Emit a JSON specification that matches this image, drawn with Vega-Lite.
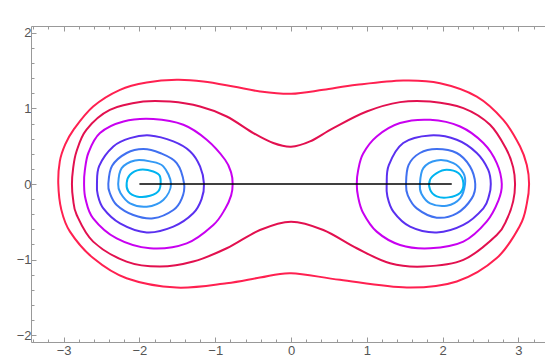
{
  "$schema": "https://vega.github.io/schema/vega-lite/v6.json",
  "width": 514,
  "height": 316,
  "autosize": {"type": "none"},
  "padding": {"left": 31, "top": 26, "right": 0, "bottom": 19},
  "config": {"view": {"stroke": null}, "axis": {"grid": false, "labelFont": "Liberation Sans"}},
  "resolve": {"axis": {"x": "independent", "y": "independent"}},
  "layer": [
    {
      "data": {"values": [
        {"s":"c7","c":"c7","i":0,"x":-3.07,"y":0},
        {"s":"c7","c":"c7","i":1,"x":-3.05,"y":0.3},
        {"s":"c7","c":"c7","i":2,"x":-2.98,"y":0.52},
        {"s":"c7","c":"c7","i":3,"x":-2.87,"y":0.717},
        {"s":"c7","c":"c7","i":4,"x":-2.61,"y":1.025},
        {"s":"c7","c":"c7","i":5,"x":-2.256,"y":1.246},
        {"s":"c7","c":"c7","i":6,"x":-1.904,"y":1.342},
        {"s":"c7","c":"c7","i":7,"x":-1.508,"y":1.378},
        {"s":"c7","c":"c7","i":8,"x":-1.157,"y":1.356},
        {"s":"c7","c":"c7","i":9,"x":-0.761,"y":1.29},
        {"s":"c7","c":"c7","i":10,"x":-0.409,"y":1.224},
        {"s":"c7","c":"c7","i":11,"x":0.0,"y":1.193},
        {"s":"c7","c":"c7","i":12,"x":0.426,"y":1.246},
        {"s":"c7","c":"c7","i":13,"x":0.867,"y":1.312},
        {"s":"c7","c":"c7","i":14,"x":1.48,"y":1.369},
        {"s":"c7","c":"c7","i":15,"x":1.966,"y":1.334},
        {"s":"c7","c":"c7","i":16,"x":2.45,"y":1.157},
        {"s":"c7","c":"c7","i":17,"x":2.8,"y":0.849},
        {"s":"c7","c":"c7","i":18,"x":3.02,"y":0.5},
        {"s":"c7","c":"c7","i":19,"x":3.11,"y":0.25},
        {"s":"c7","c":"c7","i":20,"x":3.14,"y":0},
        {"s":"c7","c":"c7","i":21,"x":3.11,"y":-0.26},
        {"s":"c7","c":"c7","i":22,"x":3.02,"y":-0.55},
        {"s":"c7","c":"c7","i":23,"x":2.714,"y":-0.98},
        {"s":"c7","c":"c7","i":24,"x":2.186,"y":-1.29},
        {"s":"c7","c":"c7","i":25,"x":1.526,"y":-1.37},
        {"s":"c7","c":"c7","i":26,"x":0.646,"y":-1.268},
        {"s":"c7","c":"c7","i":27,"x":0.0,"y":-1.18},
        {"s":"c7","c":"c7","i":28,"x":-0.41,"y":-1.238},
        {"s":"c7","c":"c7","i":29,"x":-0.85,"y":-1.313},
        {"s":"c7","c":"c7","i":30,"x":-1.51,"y":-1.37},
        {"s":"c7","c":"c7","i":31,"x":-2.17,"y":-1.247},
        {"s":"c7","c":"c7","i":32,"x":-2.61,"y":-0.98},
        {"s":"c7","c":"c7","i":33,"x":-2.916,"y":-0.63},
        {"s":"c7","c":"c7","i":34,"x":-3.03,"y":-0.34},

        {"s":"c6","c":"c6","i":0,"x":-2.89,"y":0},
        {"s":"c6","c":"c6","i":1,"x":-2.875,"y":0.2},
        {"s":"c6","c":"c6","i":2,"x":-2.83,"y":0.43},
        {"s":"c6","c":"c6","i":3,"x":-2.7,"y":0.717},
        {"s":"c6","c":"c6","i":4,"x":-2.39,"y":0.98},
        {"s":"c6","c":"c6","i":5,"x":-1.95,"y":1.09},
        {"s":"c6","c":"c6","i":6,"x":-1.596,"y":1.09},
        {"s":"c6","c":"c6","i":7,"x":-1.2,"y":1.025},
        {"s":"c6","c":"c6","i":8,"x":-0.848,"y":0.893},
        {"s":"c6","c":"c6","i":9,"x":-0.497,"y":0.674},
        {"s":"c6","c":"c6","i":10,"x":-0.234,"y":0.542},
        {"s":"c6","c":"c6","i":11,"x":0.0,"y":0.493},
        {"s":"c6","c":"c6","i":12,"x":0.25,"y":0.563},
        {"s":"c6","c":"c6","i":13,"x":0.558,"y":0.74},
        {"s":"c6","c":"c6","i":14,"x":0.998,"y":0.959},
        {"s":"c6","c":"c6","i":15,"x":1.438,"y":1.083},
        {"s":"c6","c":"c6","i":16,"x":1.834,"y":1.091},
        {"s":"c6","c":"c6","i":17,"x":2.273,"y":1.004},
        {"s":"c6","c":"c6","i":18,"x":2.625,"y":0.783},
        {"s":"c6","c":"c6","i":19,"x":2.845,"y":0.45},
        {"s":"c6","c":"c6","i":20,"x":2.93,"y":0.22},
        {"s":"c6","c":"c6","i":21,"x":2.955,"y":0},
        {"s":"c6","c":"c6","i":22,"x":2.93,"y":-0.23},
        {"s":"c6","c":"c6","i":23,"x":2.85,"y":-0.46},
        {"s":"c6","c":"c6","i":24,"x":2.714,"y":-0.674},
        {"s":"c6","c":"c6","i":25,"x":2.273,"y":-1.004},
        {"s":"c6","c":"c6","i":26,"x":1.745,"y":-1.092},
        {"s":"c6","c":"c6","i":27,"x":1.306,"y":-1.049},
        {"s":"c6","c":"c6","i":28,"x":0.867,"y":-0.85},
        {"s":"c6","c":"c6","i":29,"x":0.426,"y":-0.608},
        {"s":"c6","c":"c6","i":30,"x":0.0,"y":-0.498},
        {"s":"c6","c":"c6","i":31,"x":-0.41,"y":-0.608},
        {"s":"c6","c":"c6","i":32,"x":-0.848,"y":-0.85},
        {"s":"c6","c":"c6","i":33,"x":-1.29,"y":-1.026},
        {"s":"c6","c":"c6","i":34,"x":-1.73,"y":-1.092},
        {"s":"c6","c":"c6","i":35,"x":-2.17,"y":-1.026},
        {"s":"c6","c":"c6","i":36,"x":-2.61,"y":-0.762},
        {"s":"c6","c":"c6","i":37,"x":-2.827,"y":-0.41},
        {"s":"c6","c":"c6","i":38,"x":-2.875,"y":-0.2},

        {"s":"c5L","c":"c5","i":0,"x":-2.73,"y":0},
        {"s":"c5L","c":"c5","i":1,"x":-2.72,"y":0.18},
        {"s":"c5L","c":"c5","i":2,"x":-2.67,"y":0.42},
        {"s":"c5L","c":"c5","i":3,"x":-2.52,"y":0.674},
        {"s":"c5L","c":"c5","i":4,"x":-2.21,"y":0.827},
        {"s":"c5L","c":"c5","i":5,"x":-1.817,"y":0.859},
        {"s":"c5L","c":"c5","i":6,"x":-1.42,"y":0.783},
        {"s":"c5L","c":"c5","i":7,"x":-1.112,"y":0.585},
        {"s":"c5L","c":"c5","i":8,"x":-0.87,"y":0.321},
        {"s":"c5L","c":"c5","i":9,"x":-0.79,"y":0.15},
        {"s":"c5L","c":"c5","i":10,"x":-0.77,"y":0},
        {"s":"c5L","c":"c5","i":11,"x":-0.79,"y":-0.15},
        {"s":"c5L","c":"c5","i":12,"x":-0.87,"y":-0.33},
        {"s":"c5L","c":"c5","i":13,"x":-1.025,"y":-0.542},
        {"s":"c5L","c":"c5","i":14,"x":-1.376,"y":-0.785},
        {"s":"c5L","c":"c5","i":15,"x":-1.86,"y":-0.85},
        {"s":"c5L","c":"c5","i":16,"x":-2.3,"y":-0.72},
        {"s":"c5L","c":"c5","i":17,"x":-2.61,"y":-0.454},
        {"s":"c5L","c":"c5","i":18,"x":-2.71,"y":-0.2},

        {"s":"c5R","c":"c5","i":0,"x":0.867,"y":0},
        {"s":"c5R","c":"c5","i":1,"x":0.885,"y":0.18},
        {"s":"c5R","c":"c5","i":2,"x":0.95,"y":0.4},
        {"s":"c5R","c":"c5","i":3,"x":1.13,"y":0.629},
        {"s":"c5R","c":"c5","i":4,"x":1.438,"y":0.806},
        {"s":"c5R","c":"c5","i":5,"x":1.834,"y":0.849},
        {"s":"c5R","c":"c5","i":6,"x":2.23,"y":0.761},
        {"s":"c5R","c":"c5","i":7,"x":2.537,"y":0.542},
        {"s":"c5R","c":"c5","i":8,"x":2.714,"y":0.277},
        {"s":"c5R","c":"c5","i":9,"x":2.78,"y":0},
        {"s":"c5R","c":"c5","i":10,"x":2.735,"y":-0.22},
        {"s":"c5R","c":"c5","i":11,"x":2.58,"y":-0.498},
        {"s":"c5R","c":"c5","i":12,"x":2.273,"y":-0.762},
        {"s":"c5R","c":"c5","i":13,"x":1.834,"y":-0.85},
        {"s":"c5R","c":"c5","i":14,"x":1.438,"y":-0.806},
        {"s":"c5R","c":"c5","i":15,"x":1.13,"y":-0.63},
        {"s":"c5R","c":"c5","i":16,"x":0.95,"y":-0.38},
        {"s":"c5R","c":"c5","i":17,"x":0.885,"y":-0.17},

        {"s":"c4L","c":"c4","i":0,"x":-2.56,"y":0},
        {"s":"c4L","c":"c4","i":1,"x":-2.53,"y":0.24},
        {"s":"c4L","c":"c4","i":2,"x":-2.344,"y":0.497},
        {"s":"c4L","c":"c4","i":3,"x":-2.124,"y":0.607},
        {"s":"c4L","c":"c4","i":4,"x":-1.86,"y":0.642},
        {"s":"c4L","c":"c4","i":5,"x":-1.552,"y":0.563},
        {"s":"c4L","c":"c4","i":6,"x":-1.33,"y":0.431},
        {"s":"c4L","c":"c4","i":7,"x":-1.2,"y":0.233},
        {"s":"c4L","c":"c4","i":8,"x":-1.148,"y":0},
        {"s":"c4L","c":"c4","i":9,"x":-1.18,"y":-0.2},
        {"s":"c4L","c":"c4","i":10,"x":-1.29,"y":-0.388},
        {"s":"c4L","c":"c4","i":11,"x":-1.552,"y":-0.564},
        {"s":"c4L","c":"c4","i":12,"x":-1.904,"y":-0.64},
        {"s":"c4L","c":"c4","i":13,"x":-2.256,"y":-0.52},
        {"s":"c4L","c":"c4","i":14,"x":-2.476,"y":-0.322},
        {"s":"c4L","c":"c4","i":15,"x":-2.55,"y":-0.14},

        {"s":"c4R","c":"c4","i":0,"x":1.262,"y":0},
        {"s":"c4R","c":"c4","i":1,"x":1.29,"y":0.25},
        {"s":"c4R","c":"c4","i":2,"x":1.48,"y":0.542},
        {"s":"c4R","c":"c4","i":3,"x":1.834,"y":0.642},
        {"s":"c4R","c":"c4","i":4,"x":2.186,"y":0.585},
        {"s":"c4R","c":"c4","i":5,"x":2.45,"y":0.41},
        {"s":"c4R","c":"c4","i":6,"x":2.6,"y":0.189},
        {"s":"c4R","c":"c4","i":7,"x":2.635,"y":0},
        {"s":"c4R","c":"c4","i":8,"x":2.61,"y":-0.16},
        {"s":"c4R","c":"c4","i":9,"x":2.537,"y":-0.322},
        {"s":"c4R","c":"c4","i":10,"x":2.273,"y":-0.542},
        {"s":"c4R","c":"c4","i":11,"x":1.922,"y":-0.64},
        {"s":"c4R","c":"c4","i":12,"x":1.57,"y":-0.564},
        {"s":"c4R","c":"c4","i":13,"x":1.35,"y":-0.366},
        {"s":"c4R","c":"c4","i":14,"x":1.27,"y":-0.16},

        {"s":"c3L","c":"c3","i":0,"x":-2.41,"y":0},
        {"s":"c3L","c":"c3","i":1,"x":-2.36,"y":0.24},
        {"s":"c3L","c":"c3","i":2,"x":-2.168,"y":0.41},
        {"s":"c3L","c":"c3","i":3,"x":-1.948,"y":0.462},
        {"s":"c3L","c":"c3","i":4,"x":-1.728,"y":0.41},
        {"s":"c3L","c":"c3","i":5,"x":-1.508,"y":0.277},
        {"s":"c3L","c":"c3","i":6,"x":-1.41,"y":0},
        {"s":"c3L","c":"c3","i":7,"x":-1.44,"y":-0.19},
        {"s":"c3L","c":"c3","i":8,"x":-1.552,"y":-0.344},
        {"s":"c3L","c":"c3","i":9,"x":-1.817,"y":-0.454},
        {"s":"c3L","c":"c3","i":10,"x":-2.08,"y":-0.41},
        {"s":"c3L","c":"c3","i":11,"x":-2.3,"y":-0.277},
        {"s":"c3L","c":"c3","i":12,"x":-2.39,"y":-0.12},

        {"s":"c3R","c":"c3","i":0,"x":1.517,"y":0},
        {"s":"c3R","c":"c3","i":1,"x":1.55,"y":0.25},
        {"s":"c3R","c":"c3","i":2,"x":1.7,"y":0.41},
        {"s":"c3R","c":"c3","i":3,"x":1.922,"y":0.462},
        {"s":"c3R","c":"c3","i":4,"x":2.186,"y":0.41},
        {"s":"c3R","c":"c3","i":5,"x":2.36,"y":0.233},
        {"s":"c3R","c":"c3","i":6,"x":2.43,"y":0},
        {"s":"c3R","c":"c3","i":7,"x":2.384,"y":-0.19},
        {"s":"c3R","c":"c3","i":8,"x":2.186,"y":-0.388},
        {"s":"c3R","c":"c3","i":9,"x":1.922,"y":-0.445},
        {"s":"c3R","c":"c3","i":10,"x":1.658,"y":-0.322},
        {"s":"c3R","c":"c3","i":11,"x":1.54,"y":-0.15},

        {"s":"c2L","c":"c2","i":0,"x":-2.28,"y":0},
        {"s":"c2L","c":"c2","i":1,"x":-2.234,"y":0.211},
        {"s":"c2L","c":"c2","i":2,"x":-2.058,"y":0.312},
        {"s":"c2L","c":"c2","i":3,"x":-1.86,"y":0.299},
        {"s":"c2L","c":"c2","i":4,"x":-1.685,"y":0.233},
        {"s":"c2L","c":"c2","i":5,"x":-1.583,"y":0},
        {"s":"c2L","c":"c2","i":6,"x":-1.685,"y":-0.211},
        {"s":"c2L","c":"c2","i":7,"x":-1.904,"y":-0.3},
        {"s":"c2L","c":"c2","i":8,"x":-2.124,"y":-0.256},
        {"s":"c2L","c":"c2","i":9,"x":-2.25,"y":-0.12},

        {"s":"c2R","c":"c2","i":0,"x":1.7,"y":0},
        {"s":"c2R","c":"c2","i":1,"x":1.745,"y":0.211},
        {"s":"c2R","c":"c2","i":2,"x":1.922,"y":0.312},
        {"s":"c2R","c":"c2","i":3,"x":2.141,"y":0.277},
        {"s":"c2R","c":"c2","i":4,"x":2.273,"y":0.145},
        {"s":"c2R","c":"c2","i":5,"x":2.295,"y":0},
        {"s":"c2R","c":"c2","i":6,"x":2.23,"y":-0.19},
        {"s":"c2R","c":"c2","i":7,"x":2.054,"y":-0.287},
        {"s":"c2R","c":"c2","i":8,"x":1.834,"y":-0.256},
        {"s":"c2R","c":"c2","i":9,"x":1.72,"y":-0.13},

        {"s":"c1L","c":"c1","i":0,"x":-2.168,"y":0.013},
        {"s":"c1L","c":"c1","i":1,"x":-2.124,"y":0.123},
        {"s":"c1L","c":"c1","i":2,"x":-1.992,"y":0.189},
        {"s":"c1L","c":"c1","i":3,"x":-1.817,"y":0.166},
        {"s":"c1L","c":"c1","i":4,"x":-1.728,"y":0.1},
        {"s":"c1L","c":"c1","i":5,"x":-1.737,"y":-0.075},
        {"s":"c1L","c":"c1","i":6,"x":-1.86,"y":-0.155},
        {"s":"c1L","c":"c1","i":7,"x":-2.036,"y":-0.164},
        {"s":"c1L","c":"c1","i":8,"x":-2.146,"y":-0.098},

        {"s":"c1R","c":"c1","i":0,"x":1.834,"y":0.057},
        {"s":"c1R","c":"c1","i":1,"x":1.922,"y":0.145},
        {"s":"c1R","c":"c1","i":2,"x":2.054,"y":0.189},
        {"s":"c1R","c":"c1","i":3,"x":2.207,"y":0.145},
        {"s":"c1R","c":"c1","i":4,"x":2.273,"y":0.013},
        {"s":"c1R","c":"c1","i":5,"x":2.23,"y":-0.119},
        {"s":"c1R","c":"c1","i":6,"x":2.075,"y":-0.177},
        {"s":"c1R","c":"c1","i":7,"x":1.922,"y":-0.164},
        {"s":"c1R","c":"c1","i":8,"x":1.834,"y":-0.075}
      ]},
      "mark": {"type": "line", "interpolate": "cardinal-closed", "strokeWidth": 2},
      "encoding": {
        "x": {"field": "x", "type": "quantitative",
          "scale": {"domain": [-3.43, 3.35], "nice": false, "zero": false},
          "axis": {"orient": "bottom", "title": null,
            "values": [-3.4,-3.2,-3,-2.8,-2.6,-2.4,-2.2,-2,-1.8,-1.6,-1.4,-1.2,-1,-0.8,-0.6,-0.4,-0.2,0,0.2,0.4,0.6,0.8,1,1.2,1.4,1.6,1.8,2,2.2,2.4,2.6,2.8,3,3.2],
            "format": ".0f",
            "labelExpr": "abs(datum.value - round(datum.value)) < 0.01 ? datum.label : ''",
            "tickSize": {"condition": {"test": "abs(datum.value - round(datum.value)) < 0.01", "value": -5}, "value": -3},
            "labelOverlap": false, "labelFlush": false, "labelPadding": 7,
            "domainColor": "#999", "tickColor": "#999", "labelColor": "#555", "labelFontSize": 13}},
        "y": {"field": "y", "type": "quantitative",
          "scale": {"domain": [-2.09, 2.09], "nice": false, "zero": false},
          "axis": {"orient": "left", "title": null,
            "values": [-2,-1.8,-1.6,-1.4,-1.2,-1,-0.8,-0.6,-0.4,-0.2,0,0.2,0.4,0.6,0.8,1,1.2,1.4,1.6,1.8,2],
            "format": ".0f",
            "labelExpr": "abs(datum.value - round(datum.value)) < 0.01 ? datum.label : ''",
            "tickSize": {"condition": {"test": "abs(datum.value - round(datum.value)) < 0.01", "value": -5}, "value": -3},
            "labelOverlap": false, "labelFlush": false, "labelPadding": 5,
            "domainColor": "#999", "tickColor": "#999", "labelColor": "#555", "labelFontSize": 13}},
        "detail": {"field": "s"},
        "order": {"field": "i", "type": "quantitative"},
        "color": {"field": "c", "type": "nominal", "legend": null,
          "scale": {"domain": ["c1","c2","c3","c4","c5","c6","c7"],
            "range": ["#00B4F0","#3399F5","#4070F0","#5A30F0","#C800F0","#E2104F","#FF2050"]}}
      }
    },
    {
      "data": {"values": [{"x": -2.0, "y": 0}, {"x": 2.12, "y": 0}]},
      "mark": {"type": "line", "color": "black", "strokeWidth": 1.5},
      "encoding": {
        "x": {"field": "x", "type": "quantitative",
          "axis": {"orient": "top", "title": null, "labels": false,
            "values": [-3.4,-3.2,-3,-2.8,-2.6,-2.4,-2.2,-2,-1.8,-1.6,-1.4,-1.2,-1,-0.8,-0.6,-0.4,-0.2,0,0.2,0.4,0.6,0.8,1,1.2,1.4,1.6,1.8,2,2.2,2.4,2.6,2.8,3,3.2],
            "tickSize": {"condition": {"test": "abs(datum.value - round(datum.value)) < 0.01", "value": -5}, "value": -3},
            "domainColor": "#999", "tickColor": "#999"}},
        "y": {"field": "y", "type": "quantitative", "axis": null}
      }
    }
  ]
}
